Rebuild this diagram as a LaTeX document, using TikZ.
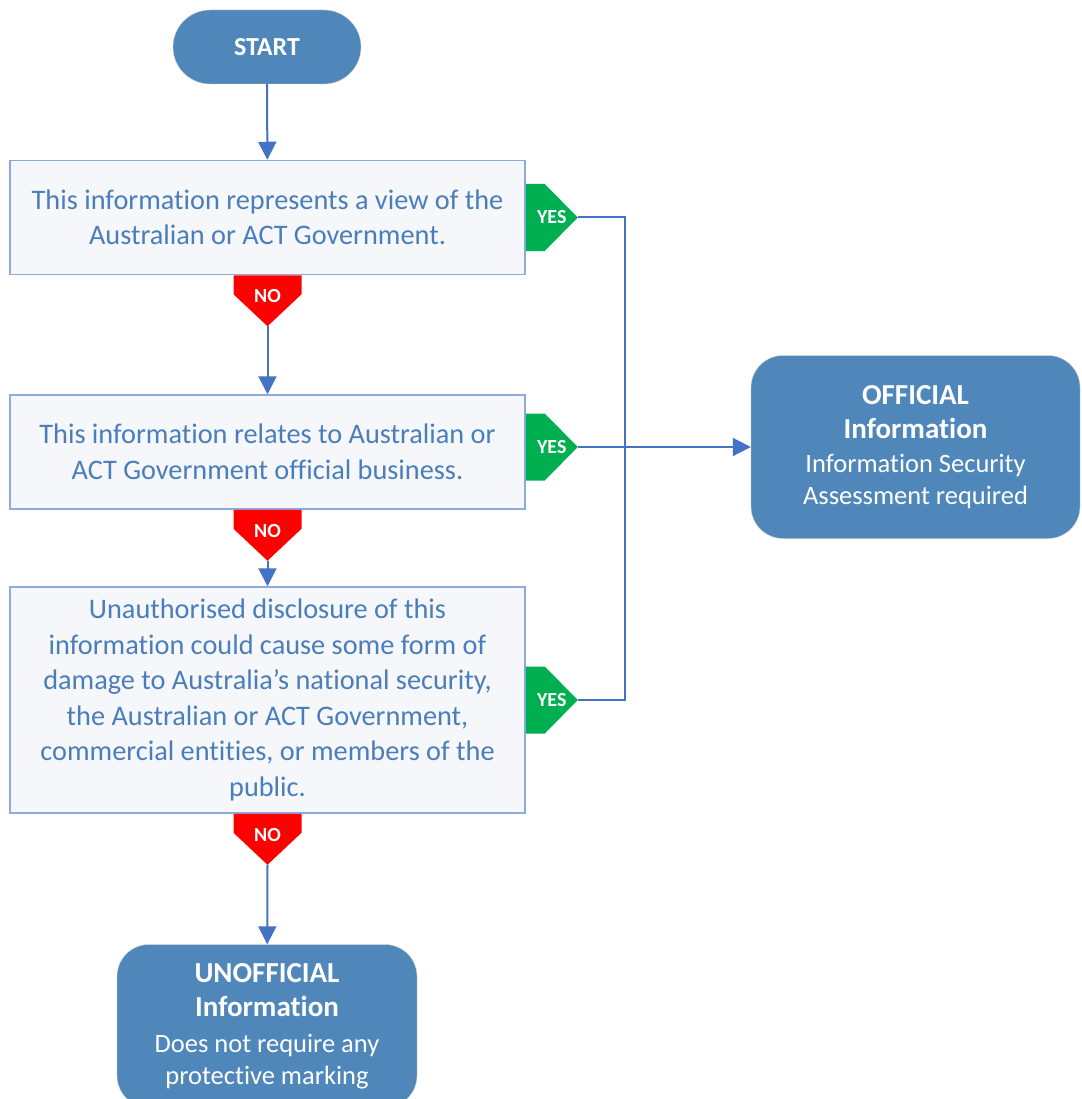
\documentclass[tikz,border=0pt]{standalone}
\usepackage{fontspec}
\setmainfont{Carlito}[Ligatures=NoCommon]
\usetikzlibrary{
    calc,
    positioning,
    arrows.meta
}
\definecolor{termblue}{HTML}{4F87BA}
\definecolor{linkblue}{HTML}{4472C4}
\definecolor{askblue}{HTML}{4A7EBB}
\definecolor{askedge}{HTML}{8EA9DB}
\definecolor{askfill}{HTML}{F5F7FB}
\definecolor{yesgreen}{HTML}{00B050}
\definecolor{nored}{HTML}{FF0000}
\newcommand{\YesTag}[2]{%
  \fill[yesgreen] ($(#1)+(0,-33.5)$) -- ++(19,0) -- ++(33,33.5) -- ++(-33,33.5) -- ++(-19,0) -- cycle;
  \coordinate (#2) at ($(#1)+(52,0)$);
  \node[tagtext] at ($(#1)+(26,0)$) {YES};
}
\newcommand{\NoTag}[2]{%
  \fill[nored] ($(#1)+(-34,0)$) -- ++(68,0) -- ++(0,19) -- ++(-34,32) -- ++(-34,-32) -- cycle;
  \coordinate (#2) at ($(#1)+(0,51)$);
  \node[tagtext] at ($(#1)+(0,21)$) {NO};
}
\newcommand{\Head}[1]{\textbf{\fontsize{29}{35}\selectfont #1}}

\begin{document}
\begin{tikzpicture}[x=1pt,y=-1pt,
  terminal/.style={draw=gray!35,fill=termblue,text=white,align=center,
    rounded corners=32pt,inner sep=0pt,font=\fontsize{26.5}{33}\selectfont},
  question/.style={draw=askedge,line width=1.5pt,fill=askfill,text=askblue,
    align=center,minimum width=515pt,inner sep=0pt,
    font=\fontsize{28.3}{35.5}\selectfont},
  tagtext/.style={text=white,font=\bfseries\fontsize{20}{20}\selectfont},
  link/.style={draw=linkblue,line width=2pt},
  flow/.style={link,-{Triangle[length=18pt,width=18pt]}}]
\clip (0,0) rectangle (1081,1099);
\useasboundingbox (0,0) rectangle (1081,1099);

\node[terminal,rounded corners=37pt,minimum width=188pt,minimum height=74pt,
  font=\bfseries\fontsize{26}{30}\selectfont] (start) at (267,47) {START};

\node[question,minimum height=114pt] (qView) at (267.5,217.5)
  {This information represents a view of the\\ Australian or ACT Government.};
\node[question,minimum height=114pt] (qBusiness) at (267.5,452)
  {This information relates to Australian or\\ ACT Government official business.};
\node[question,minimum height=226pt] (qDamage) at (267.5,700)
  {Unauthorised disclosure of this\\ information could cause some form of\\
   damage to Australia’s national security,\\ the Australian or ACT Government,\\
   commercial entities, or members of the\\ public.};

\node[terminal,minimum width=329pt,minimum height=183pt] (official) at (915.5,447)
  {\Head{OFFICIAL}\\[1pt] \Head{Information}\\[1pt]
   Information Security\\[-1pt] Assessment required};
\node[terminal,minimum width=300pt,minimum height=163pt] (unofficial) at (267,1026)
  {\Head{UNOFFICIAL}\\[1pt] \Head{Information}\\[3pt]
   Does not require any\\[-1pt] protective marking};

% answer tags
\YesTag{qView.east}{yesView}
\YesTag{$(qBusiness.east)+(0,-5)$}{yesBusiness}
\YesTag{qDamage.east}{yesDamage}
\NoTag{qView.south}{noView}
\NoTag{qBusiness.south}{noBusiness}
\NoTag{qDamage.south}{noDamage}

% connectors
\coordinate (yesRail) at (625,0);
\draw[flow] (start) -- (qView);
\draw[flow] (noView) -- (qBusiness);
\draw[flow] (noBusiness) -- (qDamage);
\draw[flow] (noDamage) -- (unofficial);
\draw[link] (yesView) -| (yesRail |- yesDamage) -- (yesDamage);
\draw[flow] (yesBusiness) -- (yesBusiness -| official.west);
\end{tikzpicture}
\end{document}
